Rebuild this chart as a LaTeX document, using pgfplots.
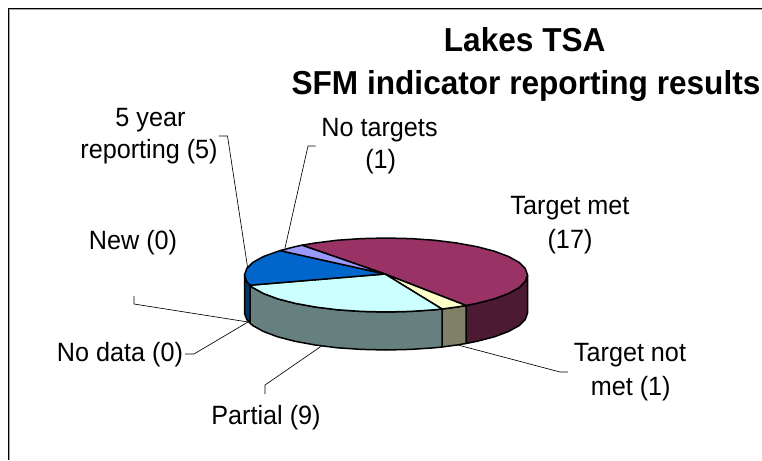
\documentclass[border=0pt]{standalone}
\usepackage{fontspec}
\setmainfont{Liberation Sans}
\usepackage{graphicx}
\usepackage{pgfplots}
\pgfplotsset{compat=1.18}
\definecolor{maroon}{HTML}{993366}
\definecolor{maroondk}{HTML}{4D1A33}
\definecolor{creamc}{HTML}{FFFFCC}
\definecolor{creamdk}{HTML}{808066}
\definecolor{cyanc}{HTML}{CCFFFF}
\definecolor{cyandk}{HTML}{668080}
\definecolor{bluec}{HTML}{0066CC}
\definecolor{bluedk}{HTML}{003366}
\definecolor{lilac}{HTML}{9999FF}
\newcommand\tall[1]{\scalebox{1}[1.05]{#1}}
\tikzset{
  wedge/.style={draw=black, line width=1.5pt, line join=round, fill=#1, mark=none},
  leader/.style={draw=black, line width=0.65pt, mark=none},
  lab/.style={anchor=base, font=\fontsize{25.2}{30}\selectfont, text=black, inner sep=0pt},
  ttl/.style={anchor=base, font=\fontsize{31.6}{36}\selectfont\bfseries, text=black, inner sep=0pt},
}
\begin{document}
\begin{tikzpicture}
\begin{axis}[
  hide axis, scale only axis, width=762pt, height=460pt,
  xmin=0, xmax=762, ymin=0, ymax=460, y dir=reverse, clip=true,
]
\path[use as bounding box] (axis cs:0,0) rectangle (axis cs:762,460);
% frame
\addplot[draw=black!35, line width=0.8pt, mark=none] coordinates {(9.8,460) (9.8,9.8) (762,9.8)};
\addplot[draw=black, line width=1pt, mark=none] coordinates {(8.3,460) (8.3,8.5) (762,8.5)};
% leader lines
\addplot[leader] coordinates {(219,136) (227.5,136) (247.7,268)};
\addplot[leader] coordinates {(315.7,146) (308,146) (285,248)};
\addplot[leader] coordinates {(134,296) (134,304) (248,322)};
\addplot[leader] coordinates {(185,354) (194,354) (248,322)};
\addplot[leader] coordinates {(265,394) (265,385) (323,345)};
\addplot[leader] coordinates {(458,345) (560,372) (568,372)};
% sides
\addplot[wedge=maroondk] coordinates {(527.5,275)(525.3,281.4)(519,287.7)(508.5,293.5)(494.4,298.8)(477,303.3)(466,305.5)(466,343.5)(477,341.3)(494.4,336.8)(508.5,331.5)(519,325.7)(525.3,319.4)(527.5,313)} --cycle;
\addplot[wedge=creamdk] coordinates {(466,305.5)(456.8,307)(442,309)(442,347)(456.8,345)(466,343.5)} --cycle;
\addplot[wedge=cyandk] coordinates {(442,309)(434.4,309.8)(410.6,311.4)(386,312)(361.4,311.4)(337.6,309.8)(315.2,307)(295,303.3)(277.6,298.8)(263.5,293.5)(253,287.7)(250,285.2)(250,323.2)(253,325.7)(263.5,331.5)(277.6,336.8)(295,341.3)(315.2,345)(337.6,347.8)(361.4,349.4)(386,350)(410.6,349.4)(434.4,347.8)(442,347)} --cycle;
\addplot[wedge=bluedk] coordinates {(250,285.2)(246.7,281.4)(244.5,275)(244.5,313)(246.7,319.4)(250,323.2)} --cycle;
% tops
\addplot[wedge=maroon] coordinates {(385,274)(302,245.2)(315.2,243)(337.6,240.2)(361.4,238.6)(386,238)(410.6,238.6)(434.4,240.2)(456.8,243)(477,246.7)(494.4,251.2)(508.5,256.5)(519,262.3)(525.3,268.6)(527.5,275)(525.3,281.4)(519,287.7)(508.5,293.5)(494.4,298.8)(477,303.3)(466,305.5)} --cycle;
\addplot[wedge=creamc] coordinates {(385,274)(466,305.5)(456.8,307)(442,309)} --cycle;
\addplot[wedge=cyanc] coordinates {(385,274)(442,309)(434.4,309.8)(410.6,311.4)(386,312)(361.4,311.4)(337.6,309.8)(315.2,307)(295,303.3)(277.6,298.8)(263.5,293.5)(253,287.7)(250,285.2)} --cycle;
\addplot[wedge=bluec] coordinates {(385,274)(250,285.2)(246.7,281.4)(244.5,275)(246.7,268.6)(253,262.3)(263.5,256.5)(280,250.6)} --cycle;
\addplot[wedge=lilac] coordinates {(385,274)(280,250.6)(295,246.7)(302,245.2)} --cycle;
% text
\node[ttl] at (axis cs:524.7,51.7) {\tall{Lakes TSA}};
\node[ttl] at (axis cs:526,94) {\tall{SFM indicator reporting results}};
\node[lab] at (axis cs:150.5,126) {\tall{5 year}};
\node[lab] at (axis cs:149,158) {\tall{reporting (5)}};
\node[lab] at (axis cs:379.5,136) {\tall{No targets}};
\node[lab] at (axis cs:380.7,168) {\tall{(1)}};
\node[lab] at (axis cs:570,214) {\tall{Target met}};
\node[lab] at (axis cs:570,248) {\tall{(17)}};
\node[lab] at (axis cs:133,249) {\tall{New (0)}};
\node[lab] at (axis cs:120,361.7) {\tall{No data (0)}};
\node[lab] at (axis cs:266,424) {\tall{Partial (9)}};
\node[lab] at (axis cs:630,361.7) {\tall{Target not}};
\node[lab] at (axis cs:630.7,395) {\tall{met (1)}};
\end{axis}
\end{tikzpicture}
\end{document}
